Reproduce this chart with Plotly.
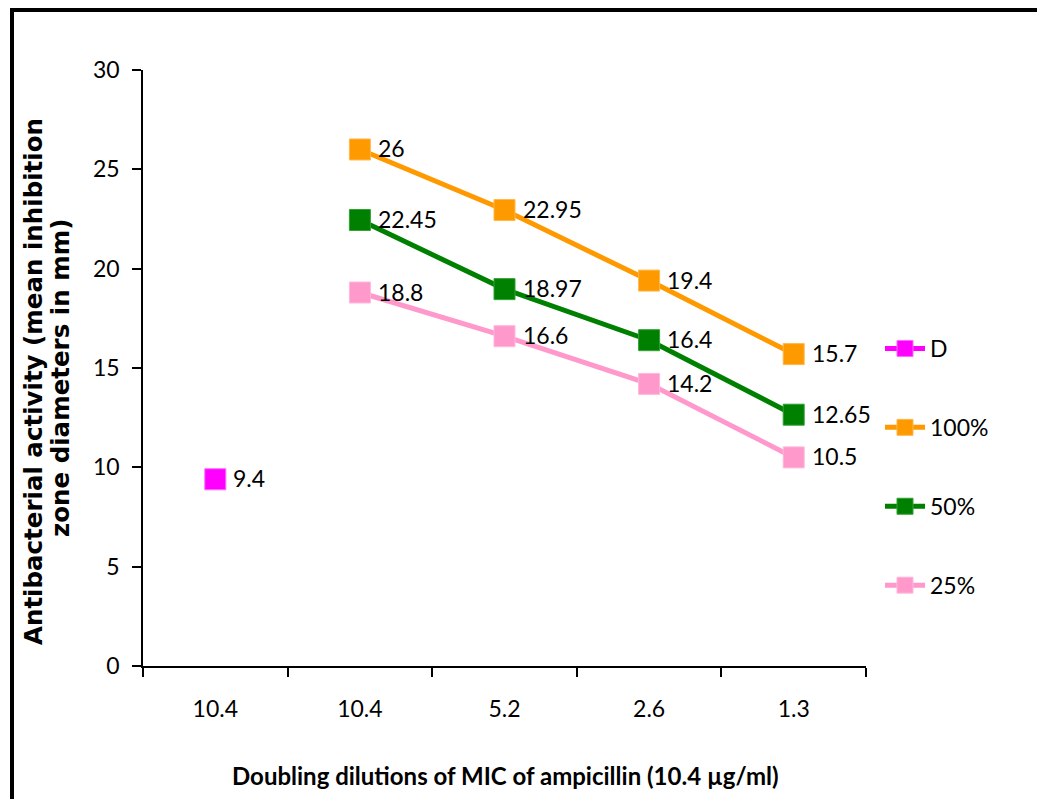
import plotly.graph_objects as go

# ---- data ----
categories = ["10.4", "10.4", "5.2", "2.6", "1.3"]
d_values = [9.4, None, None, None, None]
v100 = [None, 26, 22.95, 19.4, 15.7]
v50 = [None, 22.45, 18.97, 16.4, 12.65]
v25 = [None, 18.8, 16.6, 14.2, 10.5]
series_names = ["D", "100%", "50%", "25%"]
series_values = [d_values, v100, v50, v25]
series_colors = ["#FF00FF", "#FF9900", "#008000", "#FF99CC"]
series_edges = ["#FF66FF", "#FFB84D", "#33A033", "#FFB8DC"]
y_ticks = [0, 5, 10, 15, 20, 25, 30]
y_title_lines = ["Antibacterial activity (mean inhibition", "zone diameters in mm)"]
x_title = "Doubling dilutions of MIC of ampicillin (10.4 µg/ml)"

FONT = "Lato, sans-serif"
xpos = list(range(len(categories)))

L, R, T, B = 143, 171, 70, 133
W, H = 1037, 799
pw, ph = W - L - R, H - T - B

def px_x(p):
    return (p - L) / pw

def px_y(p):
    return (H - B - p) / ph

fig = go.Figure()
annotations = []
for i, (name, vals, col, edge) in enumerate(zip(series_names, series_values, series_colors, series_edges)):
    fig.add_trace(go.Scatter(
        x=xpos, y=vals, name=name,
        mode="lines+markers",
        line=dict(color=col, width=5),
        marker=dict(symbol="square", size=21, color=col, line=dict(color=edge, width=1)),
        legendgroup=name, connectgaps=False,
    ))
    for xv, v in zip(xpos, vals):
        if v is None:
            continue
        annotations.append(dict(
            x=xv, y=v, xref="x", yref="y", text=f"{v:g}", showarrow=False,
            xanchor="left", yanchor="middle", xshift=16, yshift=1,
            font=dict(family=FONT, size=23, color="black"),
        ))

annotations.append(dict(text=y_title_lines[0],
     x=px_x(33), y=px_y(382), xref="paper", yref="paper",
     xanchor="center", yanchor="middle", showarrow=False, textangle=-90,
     font=dict(family="DejaVu Sans", size=24.5, color="black", weight="bold")))
annotations.append(dict(text=y_title_lines[1],
     x=px_x(60), y=px_y(378), xref="paper", yref="paper",
     xanchor="center", yanchor="middle", showarrow=False, textangle=-90,
     font=dict(family="DejaVu Sans", size=24.5, color="black", weight="bold")))
annotations.append(dict(text=x_title,
     x=px_x(505), y=px_y(775), xref="paper", yref="paper",
     xanchor="center", yanchor="middle", showarrow=False,
     font=dict(family=FONT, size=24, color="black", weight="bold")))

fig.update_layout(
    width=W, height=H,
    margin=dict(l=L, r=R, t=T, b=B),
    paper_bgcolor="white", plot_bgcolor="white",
    showlegend=True,
    legend=dict(
        x=px_x(880), y=px_y(327), xanchor="left", yanchor="top",
        font=dict(family=FONT, size=23, color="black"),
        tracegroupgap=46, traceorder="grouped",
        bgcolor="rgba(0,0,0,0)", itemwidth=40,
    ),
    xaxis=dict(
        range=[-0.5, len(categories) - 0.5],
        tickmode="array", tickvals=xpos, ticktext=categories,
        ticks="", ticklabelstandoff=22,
        tickfont=dict(family=FONT, size=23, color="black"),
        showline=True, linecolor="black", linewidth=1.5,
        showgrid=False, zeroline=False,
        minor=dict(tickmode="linear", tick0=-0.5, dtick=1, ticks="outside",
                   ticklen=9, tickwidth=1.5, tickcolor="black", showgrid=False),
    ),
    yaxis=dict(
        range=[0, 30], tickmode="array", tickvals=y_ticks,
        ticks="outside", ticklen=9, tickwidth=1.5, tickcolor="black",
        tickfont=dict(family=FONT, size=23, color="black"),
        ticklabelstandoff=8,
        showline=True, linecolor="black", linewidth=1.5,
        showgrid=False, zeroline=False,
    ),
    annotations=annotations,
    shapes=[
        dict(type="rect", xref="paper", yref="paper",
             x0=px_x(12), x1=px_x(1060), y0=px_y(830), y1=px_y(10),
             line=dict(color="black", width=4), fillcolor="rgba(0,0,0,0)", layer="above"),
    ],
)

fig.write_html("out.html")
